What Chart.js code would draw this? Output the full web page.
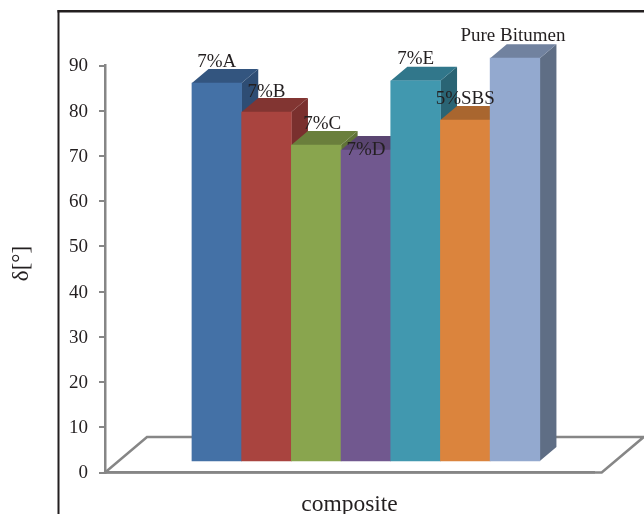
<!DOCTYPE html>
<html><head><meta charset="utf-8">
<style>html,body{margin:0;padding:0;background:#fff}canvas{display:block}</style>
<script src="https://cdn.jsdelivr.net/npm/chart.js@4/dist/chart.umd.min.js"></script>
</head><body><canvas id="c" width="644" height="514"></canvas>
<script>
const categories = ['7%A','7%B','7%C','7%D','7%E','5%SBS','Pure Bitumen'];
const deltaValues = [83.8, 77.4, 70.1, 69.0, 84.3, 75.6, 89.3];
const yTicks = [0,10,20,30,40,50,60,70,80,90];
const yAxisTitle = 'δ[°]';
const xAxisTitle = 'composite';
const frontColors = ['#4471A6','#A9443F','#89A54E','#71588F','#4198AF','#DB843D','#93A9CF'];
const topColors   = ['#33557F','#823532','#6A7F3C','#5A4571','#31778B','#A9662F','#71829F'];
const sideColors  = ['#2E4D74','#7A302E','#607238','#503E66','#2A6474','#96592A','#5F6E85'];
const labelShiftX = [0,0,6,0,0,0,-2];
const labelShiftY = [-16,-15,-16,5,-17,-16,-17];
const FONT = '"Liberation Serif","Times New Roman",serif';
const INK = '#231F20';
const GREY = '#868686';
const RAISE = 10.5, DX = 16.6, DY = 14;

function poly(ctx, pts, fill){
  ctx.beginPath();
  pts.forEach((p,i)=> i?ctx.lineTo(p[0],p[1]):ctx.moveTo(p[0],p[1]));
  ctx.closePath(); ctx.fillStyle = fill; ctx.fill();
}
const scene3d = {
  id:'scene3d',
  beforeDraw(chart){
    const {ctx} = chart;
    ctx.save();
    ctx.fillStyle = INK;
    ctx.fillRect(57.5,10,2,504);
    ctx.fillRect(57.5,10,586.5,2.5);
    ctx.restore();
  },
  beforeDatasetsDraw(chart){
    const {ctx, scales:{x,y}} = chart;
    const b0 = y.getPixelForValue(0);
    const xL = x.left;
    const xR = 601.7, floorD = 42, floorH = 35.5;
    ctx.save();
    ctx.strokeStyle = GREY; ctx.lineWidth = 2.5; ctx.lineJoin='miter';
    ctx.beginPath();
    ctx.moveTo(xL,b0); ctx.lineTo(xR,b0); ctx.lineTo(xR+floorD,b0-floorH);
    ctx.lineTo(xL+floorD,b0-floorH); ctx.closePath(); ctx.stroke();
    const bars = chart.getDatasetMeta(0).data;
    ctx.translate(0,-RAISE);
    bars.forEach((bar,i)=>{
      const l = bar.x-bar.width/2, r = bar.x+bar.width/2, t = bar.y, b = bar.base;
      poly(ctx,[[r,t],[r+DX,t-DY],[r+DX,b-DY],[r,b]],sideColors[i]);
      poly(ctx,[[l,t],[l+DX,t-DY],[r+DX,t-DY],[r,t]],topColors[i]);
    });
    ctx.restore();
    ctx.save();
    ctx.translate(0,-RAISE);
  },
  afterDatasetsDraw(chart){
    const {ctx} = chart;
    ctx.restore();
    const bars = chart.getDatasetMeta(0).data;
    ctx.save();
    ctx.font = '19px '+FONT;
    ctx.fillStyle = INK;
    ctx.textAlign = 'center';
    ctx.textBaseline = 'alphabetic';
    bars.forEach((bar,i)=>{
      ctx.fillText(categories[i], bar.x+labelShiftX[i], bar.y-RAISE+labelShiftY[i]);
    });
    ctx.translate(22,263.5);
    ctx.rotate(-Math.PI/2);
    ctx.font = '23px '+FONT;
    ctx.textBaseline = 'middle';
    ctx.fillText(yAxisTitle,0,0);
    ctx.restore();
  }
};
new Chart(document.getElementById('c'),{
  type:'bar',
  data:{datasets:[{
    data: deltaValues.map((v,i)=>({x:i+1,y:v})),
    backgroundColor: frontColors,
    borderWidth:0,
    barPercentage:1,
    categoryPercentage:1
  }]},
  options:{
    responsive:false, animation:false, devicePixelRatio:1,
    layout:{padding:{top:65.5,right:50,left:0,bottom:0}},
    plugins:{legend:{display:false},tooltip:{enabled:false},title:{display:false}},
    scales:{
      x:{type:'linear',offset:false,min:-1.25,max:8.59,
        afterFit(s){s.height=41.5;},
        grid:{display:false,offset:false},
        border:{display:true,color:GREY,width:2.5},
        ticks:{display:false},
        title:{display:true,text:xAxisTitle,color:INK,font:{family:FONT,size:23.5,lineHeight:0.77},padding:{top:0,bottom:0}}
      },
      y:{min:0,max:90,
        afterFit(s){s.width=105;},
        afterBuildTicks(s){s.ticks = yTicks.map(v=>({value:v}));},
        grid:{drawOnChartArea:false,drawTicks:true,tickLength:6,color:GREY,lineWidth:2},
        border:{display:true,color:GREY,width:2.5},
        ticks:{color:INK,font:{family:FONT,size:19},padding:11,labelOffset:1},
        title:{display:false}
      }
    }
  },
  plugins:[scene3d]
});
</script></body></html>
